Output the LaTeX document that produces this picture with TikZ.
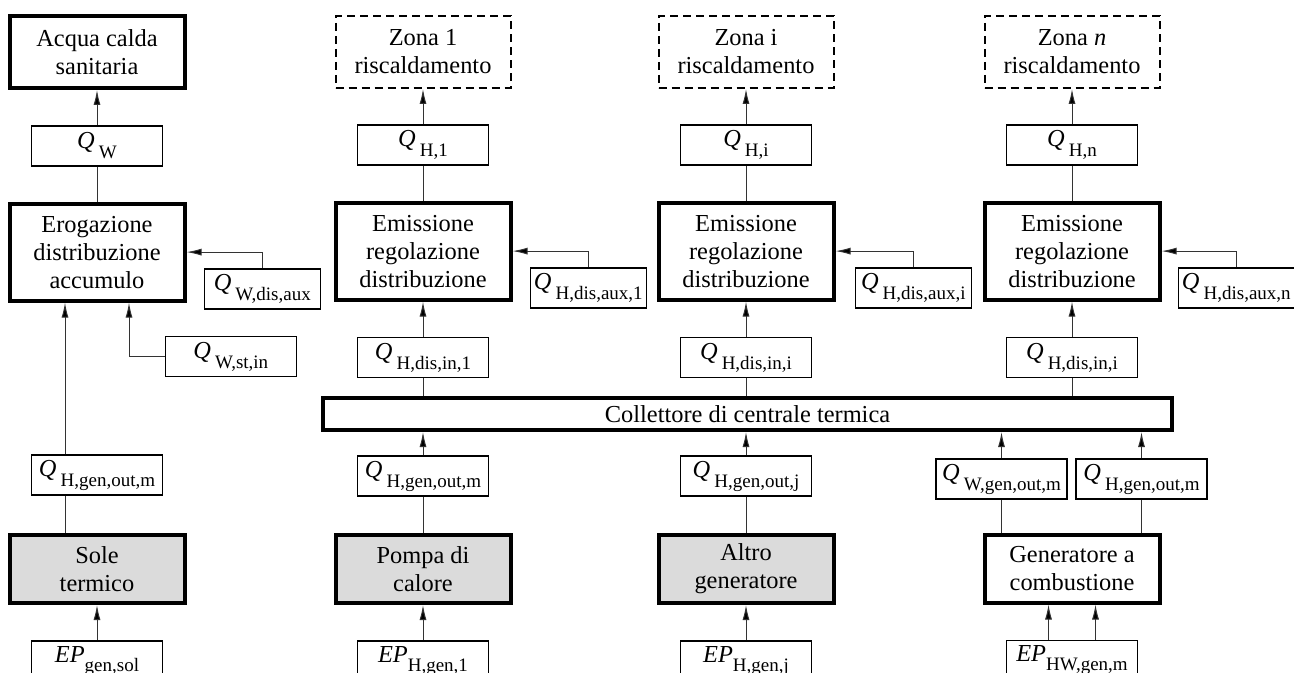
\documentclass[tikz,border=0pt]{standalone}
\usepackage{fontspec}
\setmainfont{Liberation Serif}
\usetikzlibrary{positioning,arrows.meta,calc}

\newcommand{\subfont}{\fontsize{9.5}{10}\selectfont}
\newcommand{\qsym}[1]{\textit{Q}\,\raisebox{-5pt}{\subfont #1}}
\newcommand{\epsym}[1]{\textit{EP}\raisebox{-4.5pt}{\subfont #1}}

\tikzset{
  blk/.style={draw, line width=2pt, minimum width=87.5pt, align=center, inner sep=0pt},
  hblk/.style={blk, minimum height=48.5pt},
  genblk/.style={blk, minimum height=34pt, fill=black!14},
  zone/.style={blk, line width=1pt, dash pattern=on 4pt off 2.5pt, minimum height=36pt},
  qbox/.style={draw, line width=0.8pt, minimum width=65.5pt, minimum height=20pt, inner sep=0pt},
  auxbox/.style={qbox, minimum width=58pt},
  flow/.style={line width=0.5pt, draw=black!80, -{Latex[length=7.5pt,width=3.5pt,fill=black]}},
  link/.style={line width=0.5pt, draw=black!80},
}

\begin{document}
\begin{tikzpicture}[x=0.5pt, y=-0.5pt, font=\fontsize{12.2}{14}\selectfont]
  \useasboundingbox (0,0) rectangle (1294,673);
  \clip (0,0) rectangle (1294,673);

  % acqua calda sanitaria
  \node[blk, minimum height=36pt] (acs) at (97,52) {Acqua calda\\sanitaria};
  \node[qbox]  (qw)   [below=17.5pt of acs] {\qsym{W}};
  \node[hblk]  (erog) [below=17.5pt of qw]  {Erogazione\\distribuzione\\accumulo};
  \node[auxbox, anchor=south west] (qwaux) at ([shift={(8.5pt,-3.5pt)}]erog.south east) {\qsym{W,dis,aux}};
  \node[qbox, anchor=north west]   (qwst)  at ([shift={(-11pt,-16.5pt)}]erog.south east) {\qsym{W,st,in}};

  % zone di riscaldamento
  \node[zone]   (zona1)  at (423,52) {Zona 1\\riscaldamento};
  \node[qbox]   (qh1)    [below=17.5pt of zona1] {\qsym{H,1}};
  \node[hblk]   (emis1)  [below=17.5pt of qh1]   {Emissione\\regolazione\\distribuzione};
  \node[auxbox, anchor=south west] (qhaux1) at ([shift={(8.5pt,-3.5pt)}]emis1.south east) {\qsym{H,dis,aux,1}};
  \node[qbox]   (qhin1)  [below=17.5pt of emis1] {\qsym{H,dis,in,1}};

  \node[zone]   (zonai)  at (746,52) {Zona i\\riscaldamento};
  \node[qbox]   (qhi)    [below=17.5pt of zonai] {\qsym{H,i}};
  \node[hblk]   (emisi)  [below=17.5pt of qhi]   {Emissione\\regolazione\\distribuzione};
  \node[auxbox, anchor=south west] (qhauxi) at ([shift={(9.5pt,-3.5pt)}]emisi.south east) {\qsym{H,dis,aux,i}};
  \node[qbox]   (qhini)  [below=17.5pt of emisi] {\qsym{H,dis,in,i}};

  \node[zone]   (zonan)  at (1072,52) {Zona \textit{n}\\riscaldamento};
  \node[qbox]   (qhn)    [below=17.5pt of zonan] {\qsym{H,n}};
  \node[hblk]   (emisn)  [below=17.5pt of qhn]   {Emissione\\regolazione\\distribuzione};
  \node[auxbox, anchor=south west] (qhauxn) at ([shift={(8pt,-3.5pt)}]emisn.south east) {\qsym{H,dis,aux,n}};
  \node[qbox]   (qhinn)  [below=17.5pt of emisn] {\qsym{H,dis,in,i}};

  \node[blk, minimum width=424.5pt, minimum height=16pt] (coll) at (747.5,414) {Collettore di centrale termica};

  % generatori
  \node[genblk] (sole)  at (97,569) {Sole\\termico};
  \node[qbox]   (qgo0)  [above=18.5pt of sole] {\qsym{H,gen,out,m}};
  \node[qbox]   (epsol) [below=17.5pt of sole] {\epsym{gen,sol}};

  \node[genblk] (pompa) at (423,569) {Pompa di\\calore};
  \node[qbox]   (qgo1)  [above=18pt of pompa] {\qsym{H,gen,out,m}};
  \node[qbox]   (ep1)   [below=17.5pt of pompa] {\epsym{H,gen,1}};

  \node[genblk] (altro) at (746,569) {Altro\\generatore};
  \node[qbox]   (qgoj)  [above=18pt of altro] {\qsym{H,gen,out,j}};
  \node[qbox]   (epj)   [below=17.5pt of altro] {\epsym{H,gen,j}};

  \node[blk, minimum height=34pt] (comb) at (1072,568.5) {Generatore a\\combustione};
  \node[qbox]   (qwgo)  at (1001.5,479) {\qsym{W,gen,out,m}};
  \node[qbox]   (qhgo)  at (1141.5,479) {\qsym{H,gen,out,m}};
  \node[qbox]   (ephw)  [below=17.5pt of comb] {\epsym{HW,gen,m}};

  % acqua calda: collegamenti
  \draw[flow] (qw) -- (acs);
  \draw[link] (erog) -- (qw);
  \draw[flow] (qwaux.north) |- (erog.east);
  \draw[flow] (qwst.west) -| ($(erog.south)+(16pt,0)$);
  \draw[flow] ($(qgo0.north)+(-16pt,0)$) -- ($(erog.south)+(-16pt,0)$);
  \draw[link] ($(sole.north)+(-16pt,0)$) -- ($(qgo0.south)+(-16pt,0)$);
  \draw[flow] (epsol) -- (sole);

  % zone: collegamenti
  \draw[flow] (qh1) -- (zona1);
  \draw[link] (emis1) -- (qh1);
  \draw[flow] (qhaux1.north) |- (emis1.east);
  \draw[flow] (qhin1) -- (emis1);
  \draw[link] (coll.north -| qhin1) -- (qhin1.south);

  \draw[flow] (qhi) -- (zonai);
  \draw[link] (emisi) -- (qhi);
  \draw[flow] (qhauxi.north) |- (emisi.east);
  \draw[flow] (qhini) -- (emisi);
  \draw[link] (coll.north -| qhini) -- (qhini.south);

  \draw[flow] (qhn) -- (zonan);
  \draw[link] (emisn) -- (qhn);
  \draw[flow] (qhauxn.north) |- (emisn.east);
  \draw[flow] (qhinn) -- (emisn);
  \draw[link] (coll.north -| qhinn) -- (qhinn.south);

  % generatori: collegamenti
  \draw[flow] (qgo1.north) -- (coll.south -| qgo1);
  \draw[link] (pompa) -- (qgo1);
  \draw[flow] (ep1) -- (pompa);

  \draw[flow] (qgoj.north) -- (coll.south -| qgoj);
  \draw[link] (altro) -- (qgoj);
  \draw[flow] (epj) -- (altro);

  \draw[flow] (qwgo.north) -- (coll.south -| qwgo);
  \draw[flow] (qhgo.north) -- (coll.south -| qhgo);
  \draw[link] (comb.north -| qwgo) -- (qwgo.south);
  \draw[link] (comb.north -| qhgo) -- (qhgo.south);
  \draw[flow] ($(ephw.north)+(-11.75pt,0)$) -- ($(comb.south)+(-11.75pt,0)$);
  \draw[flow] ($(ephw.north)+(11.75pt,0)$) -- ($(comb.south)+(11.75pt,0)$);
\end{tikzpicture}
\end{document}
